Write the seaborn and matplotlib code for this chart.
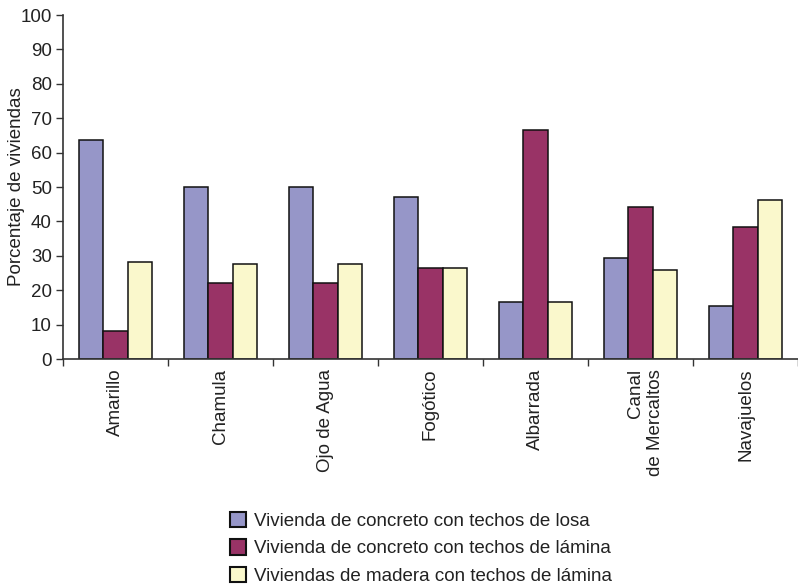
import matplotlib
matplotlib.use("Agg")
import matplotlib.pyplot as plt
import matplotlib.transforms as mtransforms
import seaborn as sns
import pandas as pd
import numpy as np
from matplotlib.patches import Patch

sns.set_style("white")
plt.rcParams["font.family"] = ["Liberation Sans", "DejaVu Sans"]

localidades = ["Amarillo", "Chamula", "Ojo de Agua", "Fogótico", "Albarrada",
               "Canal\nde Mercaltos", "Navajuelos"]
series = ["Vivienda de concreto con techos de losa",
          "Vivienda de concreto con techos de lámina",
          "Viviendas de madera con techos de lámina"]
concreto_losa = [63.6, 50.0, 50.0, 47.0, 16.6, 29.5, 15.3]
concreto_lamina = [8.0, 22.1, 22.1, 26.5, 66.7, 44.3, 38.4]
madera_lamina = [28.1, 27.7, 27.7, 26.5, 16.6, 25.8, 46.1]
colores = ["#9696C8", "#993366", "#FAF8CC"]

df = pd.DataFrame({
    "localidad": localidades * 3,
    "tipo": [series[0]] * 7 + [series[1]] * 7 + [series[2]] * 7,
    "porcentaje": concreto_losa + concreto_lamina + madera_lamina,
})

W, H = 798, 584
fig = plt.figure(figsize=(W / 100, H / 100), dpi=100)
ax = fig.add_axes([63 / W, (H - 359) / H, (W - 63) / W, (359 - 15) / H])

sns.barplot(data=df, x="localidad", y="porcentaje", hue="tipo",
            hue_order=series, order=localidades, palette=colores,
            width=0.7, edgecolor="#111111", linewidth=1.1, ax=ax,
            legend=False, errorbar=None, saturation=1)

fs = 13.5
ax.set_ylim(0, 100)
ax.set_xlim(-0.5, -0.5 + (W - 63) / 105.8)
ax.set_yticks(np.arange(0, 101, 10))
ax.tick_params(axis="y", labelsize=fs, length=5, width=1, color="#333333",
               pad=3, left=True, labelcolor="#222222")
ax.set_xticks(range(len(localidades)))
ax.set_xticklabels(localidades, rotation=90, fontsize=fs,
                   multialignment="right", linespacing=1.3, color="#222222")
ax.tick_params(axis="x", length=0, pad=7)
ax.set_xticks(np.arange(-0.5, len(localidades), 1.0), minor=True)
ax.tick_params(axis="x", which="minor", length=5, width=1, color="#333333",
               bottom=True)
ax.set_xlabel("")

# nudge the two-line label so its block sits centred on its group
for lab in ax.get_xticklabels():
    if "\n" in lab.get_text():
        lab.set_transform(lab.get_transform() +
                          mtransforms.ScaledTranslation(5 / 100, 0, fig.dpi_scale_trans))

ax.set_ylabel("Porcentaje de viviendas", fontsize=fs, color="#222222")
ax.yaxis.set_label_coords((25 - 63) / (W - 63), 0.5)

for side in ["top", "right"]:
    ax.spines[side].set_visible(False)
for side in ["left", "bottom"]:
    ax.spines[side].set_color("#333333")
    ax.spines[side].set_linewidth(1.2)

handles = [Patch(facecolor=c, edgecolor="#111111", linewidth=1.5) for c in colores]
leg = fig.legend(handles, series, loc="upper left",
                 bbox_to_anchor=(222 / W, 1 - 504 / H), frameon=False,
                 fontsize=fs, handlelength=0.9, handleheight=0.9,
                 handletextpad=0.4, labelspacing=0.5, borderaxespad=0)
for t in leg.get_texts():
    t.set_color("#222222")

fig.savefig("out.png", dpi=100)
